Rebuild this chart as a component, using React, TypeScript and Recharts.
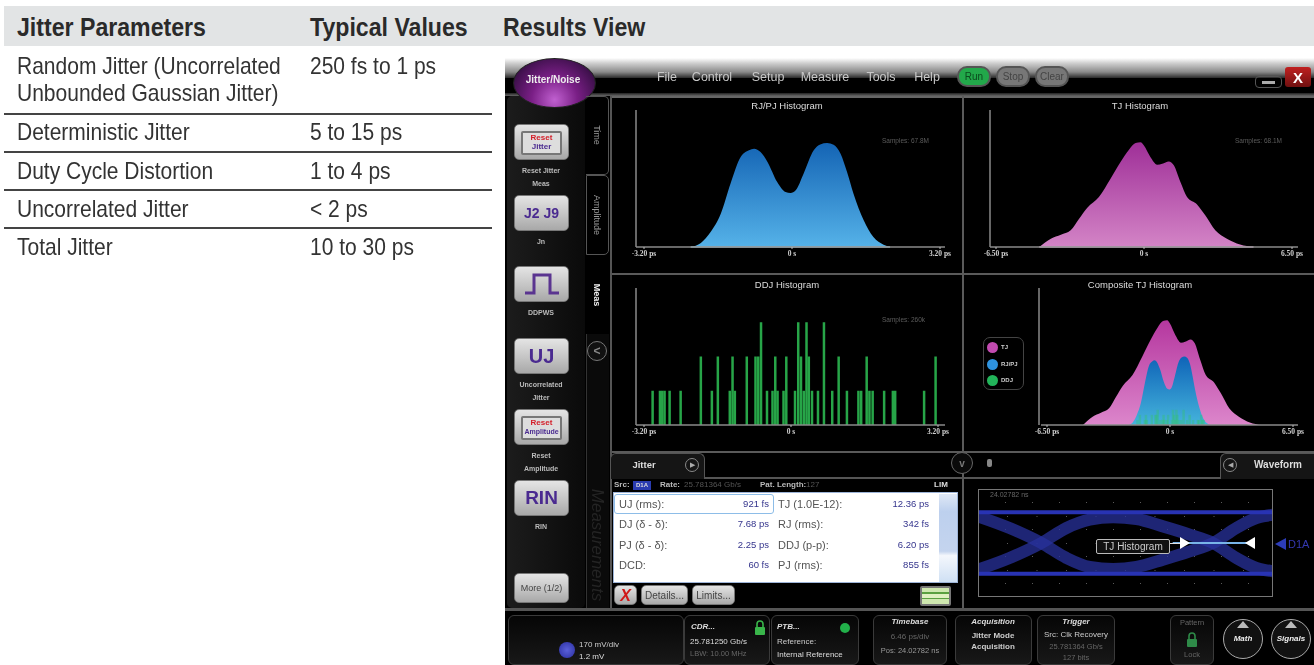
import React from 'react';
import { AreaChart, Area, BarChart, Bar, ComposedChart, LineChart, Line, XAxis, YAxis, CartesianGrid, ReferenceLine } from 'recharts';

// ---------- table content ----------
const tableHeaders = ['Jitter Parameters', 'Typical Values', 'Results View'];
const tableParams = ['Random Jitter (Uncorrelated', 'Unbounded Gaussian Jitter)', 'Deterministic Jitter', 'Duty Cycle Distortion', 'Uncorrelated Jitter', 'Total Jitter'];
const tableValues = ['250 fs to 1 ps', '', '5 to 15 ps', '1 to 4 ps', '< 2 ps', '10 to 30 ps'];

// ---------- histogram data ----------
const rjPs = [-2.19, -1.97, -1.76, -1.54, -1.33, -1.11, -0.93, -0.82, -0.68, -0.53, -0.32, -0.14, -0.03, 0.08, 0.25, 0.47, 0.61, 0.76, 0.9, 1.05, 1.19, 1.33, 1.55, 1.76, 1.98, 2.12];
const rjCounts = [0, 2.9, 10.9, 24.3, 46.2, 65.7, 70.6, 71.8, 69.3, 62, 47.4, 40.1, 39.4, 41.4, 53.5, 70.6, 74.9, 75.9, 74.7, 68.1, 54.7, 38.9, 19.5, 7.3, 1.7, 0];
const tjPs = [-4.6, -4.09, -3.65, -3.22, -2.85, -2.49, -1.98, -1.47, -1.03, -0.66, -0.37, -0.15, -0.01, 0.28, 0.58, 0.8, 1.09, 1.31, 1.6, 1.89, 2.33, 2.69, 3.13, 3.64, 4.22, 4.81];
const tjCounts = [0, 6.1, 9, 12.2, 20.7, 28.7, 36.5, 49.9, 62, 71, 75.9, 76.4, 74.2, 65.7, 60.1, 60.8, 62.5, 59.6, 47.4, 36.5, 31.1, 23.1, 12.2, 6.1, 1.9, 0];
const ddjPs = [-3.01, -2.85, -2.8, -2.75, -2.64, -2.4, -1.96, -1.72, -1.59, -1.33, -1.27, -1.22, -0.96, -0.77, -0.71, -0.65, -0.52, -0.4, -0.34, -0.29, -0.16, -0.1, 0.09, 0.16, 0.22, 0.28, 0.34, 0.39, 0.46, 0.59, 0.72, 0.9, 1.04, 1.22, 1.47, 1.53, 1.65, 1.71, 1.78, 2.03, 2.22, 2.27, 2.9, 3.15];
const ddjCounts = [1, 1, 1, 1, 1, 1, 2, 1, 2, 1, 2, 1, 2, 2, 2, 3, 1, 1, 2, 1, 1, 2, 1, 3, 2, 1, 3, 2, 1, 1, 3, 1, 2, 1, 1, 1, 2, 1, 1, 1, 1, 1, 1, 2];
const narrowTicks = [-3.2, 0, 3.2];
const wideTicks = [-6.5, 0, 6.5];
const narrowTickLabels = ['-3.20 ps', '0 s', '3.20 ps'];
const wideTickLabels = ['-6.50 ps', '0 s', '6.50 ps'];
const legendNames = ['TJ', 'RJ/PJ', 'DDJ'];

// ---------- eye diagram data ----------
const eyeX = [0, 10.7, 21.5, 30, 37.9, 45.8, 53.7, 62.7, 71.8, 79.7, 87.6, 94.4, 100];
const eyeFalling = [74.7, 63.9, 50, 36.1, 27.8, 25.9, 27.8, 34.6, 42.3, 50, 63.9, 73.1, 76.2];
const eyeRising = [25.3, 36.1, 50, 63.9, 71.6, 73.8, 72.2, 65.4, 57.7, 50, 36.1, 26.9, 23.8];
const eyeHighRail = [78.4, 78.4, 78.4, 78.4, 78.4, 78.4, 78.4, 78.4, 78.4, 78.4, 78.4, 78.4, 78.4];
const eyeLowRail = [21.6, 21.6, 21.6, 21.6, 21.6, 21.6, 21.6, 21.6, 21.6, 21.6, 21.6, 21.6, 21.6];
const eyeGridX = [10, 20, 30, 40, 50, 60, 70, 80, 90];
const eyeGridY = [12.5, 25, 37.5, 50, 62.5, 75, 87.5];

// ---------- instrument text ----------
const menuItems = ['File', 'Control', 'Setup', 'Measure', 'Tools', 'Help'];
const measurementRows = [
  ['UJ (rms):', '921 fs', 'TJ (1.0E-12):', '12.36 ps'],
  ['DJ (δ - δ):', '7.68 ps', 'RJ (rms):', '342 fs'],
  ['PJ (δ - δ):', '2.25 ps', 'DDJ (p-p):', '6.20 ps'],
  ['DCD:', '60 fs', 'PJ (rms):', '855 fs'],
];

const rows = (xs: number[], ys: number[]) => xs.map((x, i) => ({ x, y: ys[i] }));
const rjRows = rows(rjPs, rjCounts);
const tjRows = rows(tjPs, tjCounts);
const ddjRows = rows(ddjPs, ddjCounts);
const allX = Array.from(new Set([...tjPs, ...rjPs, ...ddjPs])).sort((a, b) => a - b);
const rjMin = rjPs[0];
const rjMax = rjPs[rjPs.length - 1];
const compositeRows = allX.map((x) => ({
  x,
  tj: tjPs.includes(x) ? tjCounts[tjPs.indexOf(x)] : null,
  rj: rjPs.includes(x) ? rjCounts[rjPs.indexOf(x)] : null,
  // in the composite view the DDJ spikes only show inside the RJ/PJ lobe
  ddj: ddjPs.includes(x) && x > rjMin + 0.3 && x < rjMax - 0.3 ? ddjCounts[ddjPs.indexOf(x)] : null,
}));
const eyeRows = eyeX.map((x, i) => ({ x, a: eyeFalling[i], b: eyeRising[i], hi: eyeHighRail[i], lo: eyeLowRail[i] }));

const uiFont = '"Liberation Sans", sans-serif';

const T = ({ x, y, s = 8, c = '#ddd', a = 'l', b = false, i = false, f = uiFont, sx = 1, children }: any) => (
  <div
    style={{
      position: 'absolute', left: x, top: y, whiteSpace: 'nowrap', fontSize: s, color: c, fontFamily: f,
      fontWeight: b ? 700 : 400, fontStyle: i ? 'italic' : 'normal', lineHeight: 1, transformOrigin: '0 50%',
      transform: `translate(${a === 'c' ? '-50%' : a === 'r' ? '-100%' : '0'}, -50%) scaleX(${sx})`,
    }}
  >
    {children}
  </div>
);

const Box = ({ x, y, w, h, style, children }: any) => (
  <div style={{ position: 'absolute', left: x, top: y, width: w, height: h, boxSizing: 'border-box', ...style }}>{children}</div>
);

const Circle = ({ x, y, r, style, children }: any) => (
  <div style={{ position: 'absolute', left: x - r, top: y - r, width: 2 * r, height: 2 * r, borderRadius: '50%', boxSizing: 'border-box', display: 'flex', alignItems: 'center', justifyContent: 'center', ...style }}>{children}</div>
);

const axisGrey = '#8a8a8a';
const tickStyle = { fill: '#cfcfcf', fontSize: 7.5, fontFamily: '"Liberation Serif", serif', fontWeight: 700 };

const Grad = ({ id, top, bottom }: any) => (
  <linearGradient id={id} x1="0" y1="0" x2="0" y2="1">
    <stop offset="0%" stopColor={top} />
    <stop offset="100%" stopColor={bottom} />
  </linearGradient>
);

const xAxisProps = (ticks: number[], labels: string[], padding: any) => ({
  dataKey: 'x', type: 'number' as const, domain: [ticks[0], ticks[2]], ticks, interval: 0 as const,
  tickFormatter: (v: number) => labels[ticks.indexOf(v)], padding, height: 20,
  stroke: axisGrey, tick: tickStyle, tickSize: 2, tickLine: { stroke: '#bbb' }, axisLine: { stroke: axisGrey, strokeWidth: 1.5 },
});
const yAxisProps = (max: number) => ({
  domain: [0, max], width: 1, tick: false, tickLine: false, axisLine: { stroke: axisGrey, strokeWidth: 1.5 },
});
const chartMargin = { top: 10, right: 15, left: 10, bottom: 0 };

// Bars sit closer together than their drawn width, so the band-derived width is widened around the scaled x.
const spike = (fill: string, opacity: number) => (p: any) =>
  p.value == null || !p.height ? <g /> : <rect x={p.x + p.width / 2 - 1.25} y={p.y} width={2.5} height={p.height} fill={fill} fillOpacity={opacity} />;

const RjChart = () => (
  <AreaChart width={335} height={167} data={rjRows} margin={chartMargin}>
    <defs><Grad id="rjFill" top="#1464b4" bottom="#55b2e8" /></defs>
    <XAxis {...xAxisProps(narrowTicks, narrowTickLabels, { left: 8, right: 5 })} />
    <YAxis {...yAxisProps(100)} />
    <Area dataKey="y" type="monotone" fill="url(#rjFill)" fillOpacity={1} stroke="none" isAnimationActive={false} />
    <ReferenceLine segment={[{ x: rjPs[0], y: 0 }, { x: rjPs[rjPs.length - 1], y: 0 }]} stroke="#a9dcf5" strokeWidth={1.5} />
  </AreaChart>
);

const TjChart = () => (
  <AreaChart width={334} height={167} data={tjRows} margin={chartMargin}>
    <defs><Grad id="tjFill" top="#9f2f98" bottom="#d384c6" /></defs>
    <XAxis {...xAxisProps(wideTicks, wideTickLabels, { left: 6, right: 6 })} />
    <YAxis {...yAxisProps(100)} />
    <Area dataKey="y" type="monotone" fill="url(#tjFill)" fillOpacity={1} stroke="none" isAnimationActive={false} />
    <ReferenceLine segment={[{ x: tjPs[0], y: 0 }, { x: tjPs[tjPs.length - 1], y: 0 }]} stroke="#efc6e8" strokeWidth={1.5} />
  </AreaChart>
);

const DdjChart = () => (
  <BarChart width={335} height={167} data={ddjRows} margin={chartMargin} barGap={0}>
    <XAxis {...xAxisProps(narrowTicks, narrowTickLabels, { left: 8, right: 7 })} />
    <YAxis {...yAxisProps(4)} />
    <Bar dataKey="y" barSize={3} shape={spike('#27a548', 1)} isAnimationActive={false} />
  </BarChart>
);

const CompositeChart = () => (
  <ComposedChart width={283} height={167} data={compositeRows} margin={chartMargin}>
    <defs>
      <Grad id="cTj" top="#b5379f" bottom="#dc86cb" />
      <Grad id="cRj" top="#0f64b8" bottom="#45b4dc" />
    </defs>
    <XAxis {...xAxisProps(wideTicks, wideTickLabels, { left: 6, right: 5 })} />
    <YAxis yAxisId="tj" {...yAxisProps(100)} />
    <YAxis yAxisId="rj" {...yAxisProps(152)} hide />
    <YAxis yAxisId="ddj" {...yAxisProps(27)} hide />
    <Area yAxisId="tj" dataKey="tj" type="monotone" connectNulls fill="url(#cTj)" fillOpacity={1} stroke="none" isAnimationActive={false} />
    <Area yAxisId="rj" dataKey="rj" type="monotone" connectNulls fill="url(#cRj)" fillOpacity={1} stroke="none" isAnimationActive={false} />
    <Bar yAxisId="ddj" dataKey="ddj" barSize={3} shape={spike('#35c070', 0.4)} isAnimationActive={false} />
  </ComposedChart>
);

const EyeChart = () => (
  <LineChart width={295} height={108} data={eyeRows} margin={{ top: 0, right: 0, left: 0, bottom: 0 }}>
    <XAxis dataKey="x" type="number" domain={[0, 100]} ticks={eyeGridX} hide />
    <YAxis domain={[0, 100]} ticks={eyeGridY} hide />
    <CartesianGrid stroke="#5a5a5a" strokeDasharray="1 26" />
    <Line dataKey="a" type="monotone" stroke="#28319c" strokeWidth={12} strokeOpacity={0.75} dot={false} isAnimationActive={false} />
    <Line dataKey="b" type="monotone" stroke="#28319c" strokeWidth={12} strokeOpacity={0.75} dot={false} isAnimationActive={false} />
    <Line dataKey="hi" type="linear" stroke="#2833b4" strokeWidth={4} dot={false} isAnimationActive={false} />
    <Line dataKey="lo" type="linear" stroke="#2833b4" strokeWidth={4} dot={false} isAnimationActive={false} />
    <ReferenceLine segment={[{ x: 66, y: 50 }, { x: 92, y: 50 }]} stroke="#78b4e8" strokeWidth={2} />
  </LineChart>
);

const buttonStyle = {
  background: 'linear-gradient(180deg,#e4e4e4 0%,#c4c4c4 55%,#a8a8a8 100%)', borderRadius: 5, border: '1px solid #777',
};

const SideButton = ({ y, h = 36, children }: any) => (
  <Box x={514} y={y} w={55} h={h} style={{ ...buttonStyle, display: 'flex', alignItems: 'center', justifyContent: 'center', textAlign: 'center' }}>{children}</Box>
);

const ResetIcon = ({ word, fs }: any) => (
  <div style={{ width: 41, height: 24, background: '#777', borderRadius: 2, padding: 2, boxSizing: 'border-box', marginTop: 2 }}>
    <div style={{ background: '#ddd', height: '100%', lineHeight: '9px', fontFamily: uiFont, fontWeight: 700 }}>
      <div style={{ color: '#d4202a', fontSize: 8 }}>Reset</div>
      <div style={{ color: '#4a2a90', fontSize: fs }}>{word}</div>
    </div>
  </div>
);

const StatusBox = ({ x, w, children }: any) => (
  <Box x={x} y={615} w={w} h={50} style={{ border: '1.5px solid #3a3a3a', borderRadius: 6, background: 'linear-gradient(180deg,#060606,#181818)' }}>{children}</Box>
);

const Lock = ({ x, y, c = '#39b54a' }: any) => (
  <svg style={{ position: 'absolute', left: x, top: y }} width={12} height={16} viewBox="0 0 12 16">
    <path d="M3 7V4a3 3 0 0 1 6 0v3" fill="none" stroke={c} strokeWidth={1.6} />
    <rect x={1} y={7} width={10} height={8} rx={1} fill={c} />
  </svg>
);

const Pill = ({ x, w, label, bg, c }: any) => (
  <Box x={x} y={66} w={w} h={21} style={{ borderRadius: 10, background: bg, border: '2px solid #555', display: 'flex', alignItems: 'center', justifyContent: 'center', fontFamily: uiFont, fontSize: 10, color: c }}>{label}</Box>
);

const Instrument = () => (
  <div style={{ position: 'absolute', left: 0, top: 0, width: 1314, height: 665, filter: 'blur(0.5px)' }}>
    {/* window */}
    <Box x={505} y={60} w={809} h={605} style={{ background: '#000' }} />
    <Box x={505} y={58} w={809} h={20} style={{ background: 'linear-gradient(180deg,#ffffff 0%,#d0d0d0 25%,#8a8a8a 70%,#2a2a2a 100%)' }} />
    <Box x={505} y={93} w={809} h={3} style={{ background: 'linear-gradient(180deg,#222,#666)' }} />
    {menuItems.map((m, i) => (
      <T key={m} x={[667, 712, 768, 825, 881, 927][i]} y={77} s={12.5} c="#c8c8c8" a="c">{m}</T>
    ))}
    <Pill x={957} w={34} label="Run" bg="#22a84a" c="#0b4a1d" />
    <Pill x={996} w={34} label="Stop" bg="#777" c="#444" />
    <Pill x={1035} w={34} label="Clear" bg="#777" c="#444" />
    <Box x={1255} y={76} w={27} h={12} style={{ border: '1px solid #555', borderRadius: 4 }}>
      <Box x={6} y={4} w={13} h={2.5} style={{ background: '#aaa' }} />
    </Box>
    <Box x={1285} y={67} w={26} h={20} style={{ background: 'linear-gradient(180deg,#c02020,#701010)', borderRadius: 3, display: 'flex', alignItems: 'center', justifyContent: 'center', color: '#fff', fontWeight: 700, fontSize: 15, fontFamily: uiFont }}>X</Box>

    {/* sidebar */}
    <Box x={507} y={96} w={78} h={512} style={{ background: 'linear-gradient(90deg,#1c1c1c,#0a0a0a)', borderRadius: 5 }} />
    <div style={{ position: 'absolute', left: 513, top: 58, width: 81, height: 48, borderRadius: '50%', background: 'radial-gradient(ellipse at 50% 85%,#c060d0 0%,#7a1f86 40%,#3a0f48 80%)', border: '1px solid #222' }} />
    <T x={553} y={80} s={10} c="#eee" a="c" b>Jitter/Noise</T>
    <SideButton y={124}><ResetIcon word="Jitter" fs={8} /></SideButton>
    <T x={541} y={170} s={7} a="c" b c="#bbb">Reset Jitter</T>
    <T x={541} y={183} s={7} a="c" b c="#bbb">Meas</T>
    <SideButton y={195}><span style={{ color: '#4a2a90', fontFamily: uiFont, fontWeight: 700, fontSize: 14 }}>J2 J9</span></SideButton>
    <T x={541} y={241} s={7} a="c" b c="#bbb">Jn</T>
    <SideButton y={266}>
      <svg width={40} height={26}><path d="M3 22H12V4H28V22H37" fill="none" stroke="#5a3490" strokeWidth={3} /></svg>
    </SideButton>
    <T x={541} y={312} s={7} a="c" b c="#bbb">DDPWS</T>
    <SideButton y={338}><span style={{ color: '#4a2a90', fontFamily: uiFont, fontWeight: 700, fontSize: 20 }}>UJ</span></SideButton>
    <T x={541} y={384} s={7} a="c" b c="#bbb">Uncorrelated</T>
    <T x={541} y={397} s={7} a="c" b c="#bbb">Jitter</T>
    <SideButton y={409}><ResetIcon word="Amplitude" fs={7} /></SideButton>
    <T x={541} y={455} s={7} a="c" b c="#bbb">Reset</T>
    <T x={541} y={468} s={7} a="c" b c="#bbb">Amplitude</T>
    <SideButton y={480}><span style={{ color: '#4a2a90', fontFamily: uiFont, fontWeight: 700, fontSize: 19 }}>RIN</span></SideButton>
    <T x={541} y={526} s={7} a="c" b c="#bbb">RIN</T>
    <SideButton y={573} h={30}><span style={{ color: '#444', fontFamily: uiFont, fontSize: 9 }}>More (1/2)</span></SideButton>

    {/* vertical tabs */}
    <Box x={586} y={96} w={23} h={79} style={{ border: '1px solid #555', borderLeft: 'none', borderRadius: '0 5px 5px 0' }} />
    <Box x={586} y={175} w={23} h={80} style={{ border: '1px solid #555', borderLeft: '1px solid #555', borderRadius: '0 5px 5px 0' }} />
    {[['Time', 135, '#999'], ['Amplitude', 215, '#999'], ['Meas', 295, '#eee']].map(([t, y, c]: any) => (
      <div key={t} style={{ position: 'absolute', left: 597, top: y, transform: 'translate(-50%,-50%) rotate(90deg)', fontSize: 9, color: c, fontFamily: uiFont, fontWeight: t === 'Meas' ? 700 : 400, whiteSpace: 'nowrap' }}>{t}</div>
    ))}
    <Box x={586} y={334} w={23} h={274} style={{ borderLeft: '1px solid #333', background: '#0a0a0a', zIndex: 0 }} />
    <Circle x={597} y={351} r={10} style={{ border: '1px solid #777', background: '#111', color: '#888', fontSize: 12, fontFamily: uiFont, fontWeight: 700 }}>{'<'}</Circle>
    <div style={{ position: 'absolute', left: 597, top: 545, transform: 'translate(-50%,-50%) rotate(90deg)', fontSize: 17, color: '#242424', fontFamily: uiFont, fontStyle: 'italic', whiteSpace: 'nowrap' }}>Measurements</div>

    {/* panel frames */}
    <Box x={610} y={96} w={704} h={1.5} style={{ background: '#666' }} />
    <Box x={962} y={96} w={2} h={512} style={{ background: '#5a5a5a' }} />
    <Box x={610} y={273} w={704} h={2} style={{ background: '#5a5a5a' }} />
    <Box x={610} y={451} w={704} h={2} style={{ background: '#5a5a5a' }} />
    <Box x={610} y={96} w={1.5} h={512} style={{ background: '#555' }} />

    {/* histograms */}
    <T x={787} y={106} s={9.5} a="c">RJ/PJ Histogram</T>
    <T x={1140} y={106} s={9.5} a="c">TJ Histogram</T>
    <T x={787} y={285} s={9.5} a="c">DDJ Histogram</T>
    <T x={1140} y={285} s={9.5} a="c">Composite TJ Histogram</T>
    <T x={882} y={141} s={6.5} c="#5c5c5c">Samples: 67.8M</T>
    <T x={1235} y={141} s={6.5} c="#5c5c5c">Samples: 68.1M</T>
    <T x={882} y={320} s={6.5} c="#5c5c5c">Samples: 260k</T>
    <div style={{ position: 'absolute', left: 625, top: 100 }}><RjChart /></div>
    <div style={{ position: 'absolute', left: 979, top: 100 }}><TjChart /></div>
    <div style={{ position: 'absolute', left: 625, top: 278 }}><DdjChart /></div>
    <div style={{ position: 'absolute', left: 1030, top: 278 }}><CompositeChart /></div>
    <Box x={983} y={337} w={41} h={53} style={{ border: '1px solid #444', borderRadius: 7 }} />
    {legendNames.map((n, i) => (
      <React.Fragment key={n}>
        <Circle x={992} y={[347, 364, 380][i]} r={5.5} style={{ background: ['#c24bb0', '#2e93e0', '#22b45a'][i] }} />
        <T x={1001} y={[347, 364, 380][i]} s={6} b c="#ccc">{n}</T>
      </React.Fragment>
    ))}

    {/* jitter tab strip */}
    <Box x={610} y={453} w={95} h={26} style={{ border: '1px solid #555', borderBottom: 'none', borderRadius: '6px 6px 0 0', background: '#151515' }} />
    <T x={644} y={465} s={9.5} b a="c" c="#ddd">Jitter</T>
    <Circle x={692} y={465} r={7} style={{ border: '1px solid #888', color: '#aaa', fontSize: 7 }}>▶</Circle>
    <Box x={705} y={477} w={515} h={1.5} style={{ background: '#555' }} />
    <Circle x={962} y={463} r={11} style={{ border: '1px solid #666', background: '#0a0a0a', color: '#777', fontSize: 10, fontWeight: 700, fontFamily: uiFont }}>v</Circle>
    <Box x={987} y={459} w={5} h={8} style={{ background: '#888', borderRadius: 2 }} />
    <Box x={1220} y={453} w={94} h={26} style={{ border: '1px solid #555', borderRight: 'none', borderBottom: 'none', borderRadius: '6px 0 0 0', background: '#151515' }} />
    <Circle x={1230} y={465} r={7} style={{ border: '1px solid #888', color: '#aaa', fontSize: 7 }}>◀</Circle>
    <T x={1278} y={465} s={10} b a="c" c="#ddd">Waveform</T>

    {/* measurement table */}
    <T x={614} y={485} s={8} c="#bbb" b>Src:</T>
    <Box x={633} y={481} w={18} h={9} style={{ background: '#2a3cb0', color: '#ddd', fontSize: 6, fontFamily: uiFont, fontWeight: 700, textAlign: 'center', lineHeight: '9px' }}>D1A</Box>
    <T x={660} y={485} s={8} c="#bbb" b>Rate:</T>
    <T x={684} y={485} s={8} c="#555">25.781364 Gb/s</T>
    <T x={760} y={485} s={8} c="#bbb" b>Pat. Length:</T>
    <T x={806} y={485} s={8} c="#555">127</T>
    <T x={941} y={485} s={8} c="#ddd" b a="c">LIM</T>
    <Box x={613} y={492} w={345} h={91} style={{ background: '#fff', border: '1px solid #9db4d8' }} />
    <Box x={614} y={494} w={160} h={20} style={{ border: '1.5px solid #8dbde8', borderRadius: 3 }} />
    {measurementRows.map((r, i) => {
      const y = [504, 524, 545, 565][i];
      return (
        <React.Fragment key={r[0]}>
          <T x={619} y={y} s={11} c="#555">{r[0]}</T>
          <T x={769} y={y} s={9.5} c="#34348c" a="r">{r[1]}</T>
          <T x={778} y={y} s={11} c="#555">{r[2]}</T>
          <T x={929} y={y} s={9.5} c="#34348c" a="r">{r[3]}</T>
        </React.Fragment>
      );
    })}
    <Box x={939} y={494} w={18} h={88} style={{ background: 'linear-gradient(180deg,#dfe8f6,#bdd0ee 20%,#c4d4ee 65%,#f4f7fc 70%,#cfe0f4 100%)' }} />
    <Box x={614} y={585} w={23} h={20} style={{ ...buttonStyle, color: '#d01818', fontWeight: 700, fontSize: 16, fontFamily: uiFont, textAlign: 'center', lineHeight: '20px', fontStyle: 'italic' }}>X</Box>
    <Box x={641} y={585} w={47} h={20} style={{ ...buttonStyle, color: '#444', fontSize: 10, fontFamily: uiFont, textAlign: 'center', lineHeight: '20px' }}>Details...</Box>
    <Box x={692} y={585} w={43} h={20} style={{ ...buttonStyle, color: '#444', fontSize: 10, fontFamily: uiFont, textAlign: 'center', lineHeight: '20px' }}>Limits...</Box>
    <Box x={920} y={586} w={31} h={20} style={{ background: 'linear-gradient(180deg,#cfe8b0 0 28%,#5aa040 28% 36%,#dff0c0 36% 62%,#5aa040 62% 70%,#cfe8b0 70%)', border: '2px solid #777', borderRadius: 2 }} />

    {/* eye diagram */}
    <div style={{ position: 'absolute', left: 978, top: 489 }}><EyeChart /></div>
    <Box x={978} y={489} w={295} h={108} style={{ border: '1px solid #777' }} />
    <T x={990} y={494} s={7} c="#666">24.02782 ns</T>
    <Box x={1096} y={539} w={74} h={15} style={{ border: '1px solid #bbb', background: '#111', borderRadius: 2, color: '#ccc', fontSize: 10, fontFamily: uiFont, textAlign: 'center', lineHeight: '13px' }}>TJ Histogram</Box>
    <Box x={1170} y={542.5} w={12} h={1} style={{ background: '#ddd' }} />
    <svg style={{ position: 'absolute', left: 1180, top: 537 }} width={10} height={12}><path d="M0 0L10 6L0 12Z" fill="#fff" /></svg>
    <svg style={{ position: 'absolute', left: 1245, top: 537 }} width={10} height={12}><path d="M10 0L0 6L10 12Z" fill="#fff" /></svg>
    <svg style={{ position: 'absolute', left: 1275, top: 538 }} width={11} height={12}><path d="M11 0L0 6L11 12Z" fill="#2c3cb8" /></svg>
    <T x={1288} y={544} s={11} c="#3438b0">D1A</T>

    {/* status bar */}
    <Box x={505} y={608} w={809} h={3} style={{ background: '#555' }} />
    <StatusBox x={508} w={176} />
    <StatusBox x={684} w={86} />
    <StatusBox x={771} w={88} />
    <StatusBox x={873} w={74} />
    <StatusBox x={955} w={77} />
    <StatusBox x={1037} w={78} />
    <StatusBox x={1170} w={44} />
    <Circle x={567} y={650} r={8} style={{ background: 'radial-gradient(circle,#5a60d8,#2a2ea0)' }} />
    <T x={579} y={645} s={8} c="#ccc">170 mV/div</T>
    <T x={579} y={657} s={8} c="#ddd">1.2 mV</T>
    <T x={691} y={627} s={8} b i c="#ddd">CDR...</T>
    <Lock x={754} y={620} />
    <T x={690} y={642} s={8} c="#ddd">25.781250 Gb/s</T>
    <T x={690} y={654} s={7.5} c="#666">LBW: 10.00 MHz</T>
    <T x={777} y={627} s={8} b i c="#ddd">PTB...</T>
    <Circle x={845} y={628} r={5} style={{ background: '#22b04a' }} />
    <T x={777} y={642} s={8} c="#ccc">Reference:</T>
    <T x={777} y={655} s={8} c="#ddd">Internal Reference</T>
    <T x={910} y={622} s={8} b i a="c" c="#ddd">Timebase</T>
    <T x={910} y={637} s={8} a="c" c="#666">6.46 ps/div</T>
    <T x={910} y={651} s={7.5} a="c" c="#999">Pos: 24.02782 ns</T>
    <T x={993} y={622} s={8} b i a="c" c="#ddd">Acquisition</T>
    <T x={993} y={636} s={8} b a="c" c="#ccc">Jitter Mode</T>
    <T x={993} y={647} s={8} b a="c" c="#ccc">Acquisition</T>
    <T x={1076} y={622} s={8} b i a="c" c="#ddd">Trigger</T>
    <T x={1076} y={635} s={8} a="c" c="#ccc">Src: Clk Recovery</T>
    <T x={1076} y={647} s={7.5} a="c" c="#666">25.781364 Gb/s</T>
    <T x={1076} y={658} s={7.5} a="c" c="#666">127 bits</T>
    <T x={1192} y={623} s={7.5} a="c" c="#666">Pattern</T>
    <Lock x={1186} y={632} c="#2e8a48" />
    <T x={1192} y={655} s={7.5} a="c" c="#666">Lock</T>
    {[[1243, 'Math'], [1291, 'Signals']].map(([x, n]: any) => (
      <React.Fragment key={n}>
        <Circle x={x} y={639} r={20} style={{ border: '1.5px solid #aaa', background: '#111' }} />
        <svg style={{ position: 'absolute', left: x - 6, top: 621 }} width={12} height={7}><path d="M0 7L6 0L12 7Z" fill="#bbb" /></svg>
        <T x={x} y={639} s={8} b i a="c" c="#eee">{n}</T>
      </React.Fragment>
    ))}
  </div>
);

const TableText = () => {
  const bodyY = [66, 93, 132, 171, 209, 247];
  const rules = [113, 151, 189, 227];
  return (
    <div style={{ position: 'absolute', left: 0, top: 0, width: 1314, height: 665, filter: 'blur(0.25px)' }}>
      <Box x={4} y={6} w={1310} h={40} style={{ background: '#e2e4e5' }} />
      {tableHeaders.map((h, i) => (
        <T key={h} x={[17, 310, 503][i]} y={27} s={25} sx={0.925} b c="#2a2a2a">{h}</T>
      ))}
      {tableParams.map((p, i) => (
        <T key={p} x={17} y={bodyY[i]} s={24} sx={0.875} c="#333">{p}</T>
      ))}
      {tableValues.map((v, i) => (
        <T key={i} x={310} y={bodyY[i]} s={24} sx={0.875} c="#333">{v}</T>
      ))}
      {rules.map((y) => (
        <Box key={y} x={4} y={y} w={488} h={1.5} style={{ background: '#444' }} />
      ))}
    </div>
  );
};

export default function App() {
  return (
    <div style={{ position: 'absolute', left: 0, top: 0, width: 1314, height: 665, background: '#fff', overflow: 'hidden' }}>
      <TableText />
      <Instrument />
    </div>
  );
}
